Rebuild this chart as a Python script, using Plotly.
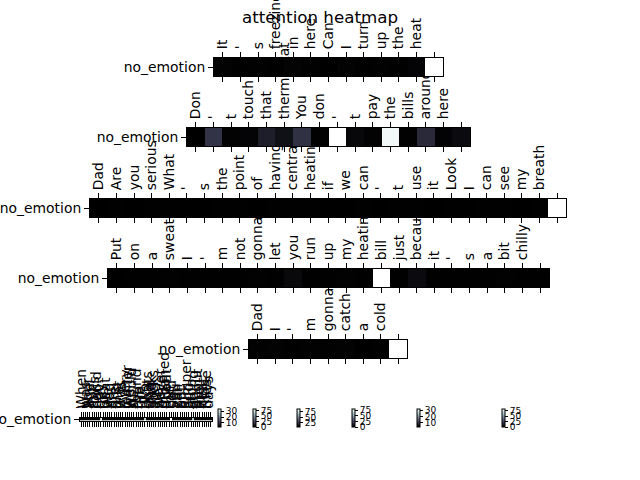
import plotly.graph_objects as go

# ---------------- data ----------------
tokens1 = ["It", "'", "s", "freezing", "in", "here", "Can", "I", "turn", "up", "the", "heat", ""]
values1 = [3.1, 2.8, 3.0, 2.9, 3.2, 3.0, 2.7, 3.1, 2.9, 3.0, 2.8, 3.3, 34.0]

tokens2 = ["Don", "'", "t", "touch", "that", "thermostat", "You", "don", "'", "t",
           "pay", "the", "bills", "around", "here", ""]
values2 = [0.0, 19.0, 1.0, 1.5, 11.0, 6.0, 18.0, 0.8, 82.0, 3.0, 1.0, 79.0, 0.6, 15.0, 1.2, 4.0]

tokens3 = ["Dad", "Are", "you", "serious", "What", "'", "s", "the", "point", "of", "having",
           "central", "heating", "if", "we", "can", "'", "t", "use", "it", "Look", "I",
           "can", "see", "my", "breath", ""]
values3 = [6.5, 6.8, 6.6, 6.9, 6.7, 6.5, 6.6, 6.8, 6.7, 6.6, 6.9, 6.7, 6.8, 6.6, 6.5,
           6.7, 6.6, 6.8, 6.7, 6.6, 6.9, 6.5, 6.7, 6.8, 6.6, 6.7, 88.0]

tokens4 = ["Put", "on", "a", "sweater", "I", "'", "m", "not", "gonna", "let", "you", "run",
           "up", "my", "heating", "bill", "just", "because", "it", "'", "s", "a", "bit",
           "chilly", ""]
values4 = [0.0, 0.5, 0.4, 0.6, 0.5, 0.3, 0.5, 0.4, 0.6, 0.5, 3.2, 0.4, 0.5, 0.6, 0.4,
           80.0, 0.5, 4.0, 0.4, 0.3, 0.5, 0.4, 0.6, 0.5, 0.4]

tokens5 = ["Dad", "I", "'", "m", "gonna", "catch", "a", "cold", ""]
values5 = [3.0, 3.2, 2.9, 3.1, 3.0, 3.2, 2.8, 3.1, 32.0]

tokens6 = ["When", "I", "was", "your", "age", "my", "folks", "could", "not", "pay",
           "for", "heat", "We", "had", "a", "fire", "and", "that", "was", "it",
           "Every", "winter", "we", "would", "sit", "round", "the", "fire", "in", "two",
           "coats", "and", "thick", "socks", "and", "we", "never", "once", "moaned", "about",
           "the", "cold", "So", "you", "can", "put", "on", "a", "jumper", "and",
           "stop", "going", "on", "about", "the", "heat", "Kids", "these", "days", ""]
values6 = [0.0, 0.6, 0.8, 0.5, 0.7, 0.6, 0.9, 0.5, 0.7, 70.0, 0.6, 0.8, 0.5, 0.7, 0.6,
           0.9, 0.5, 0.6, 0.7, 0.8, 0.6, 0.5, 0.7, 0.6, 0.8, 0.5, 0.7, 0.6, 0.9, 65.0,
           0.6, 0.7, 0.5, 0.8, 0.6, 0.7, 0.5, 0.6, 0.8, 0.7, 0.6, 82.0, 0.5, 0.7, 0.6,
           0.8, 0.5, 0.6, 0.7, 0.6, 0.5, 60.0, 0.7, 0.6, 0.8, 0.5, 0.6, 0.7, 0.5, 1.0]

row_label = "no_emotion"
cbar_ticks = [[10, 20, 30], [0, 25, 50, 75], [25, 50, 75], [0, 25, 50, 75], [10, 20, 30], [0, 25, 50, 75]]

rows = [(tokens1, values1), (tokens2, values2), (tokens3, values3),
        (tokens4, values4), (tokens5, values5), (tokens6, values6)]

# ---------------- layout geometry (pixels) ----------------
W, H = 640, 480
boxes = [  # x0, x1, y0, y1
    (214, 443, 58, 76),
    (187, 470, 128, 146),
    (90, 566, 199, 217),
    (108, 549, 269, 287),
    (249, 407, 340, 358),
    (80, 212, 417.5, 420.5),
]
cb_x = [218, 253, 297, 352, 417, 502]
cb_y = 418
cb_len = 18

bone = [
    [0.0, "rgb(0,0,0)"],
    [0.365079, "rgb(81,81,113)"],
    [0.746032, "rgb(166,198,198)"],
    [1.0, "rgb(255,255,255)"],
]

FONT = "DejaVu Sans"
fig = go.Figure()
layout = dict(
    width=W, height=H,
    margin=dict(l=0, r=0, t=0, b=0, pad=0, autoexpand=False),
    paper_bgcolor="white", plot_bgcolor="white",
    font=dict(family=FONT, color="black", size=13.9),
    showlegend=False,
    title=dict(text="attention heatmap", x=0.5, xanchor="center", xref="paper",
               y=1 - 17 / H, yanchor="middle", yref="paper",
               font=dict(family=FONT, size=16.7, color="black")),
)

n_rows = len(rows)
for i, ((toks, vals), (x0, x1, y0, y1)) in enumerate(zip(rows, boxes)):
    k = n_rows - i  # row 1 gets the highest axis id so it draws on top
    xa = "x" if k == 1 else f"x{k}"
    ya = "y" if k == 1 else f"y{k}"
    xkey = "xaxis" if k == 1 else f"xaxis{k}"
    ykey = "yaxis" if k == 1 else f"yaxis{k}"
    n = len(toks)
    fig.add_trace(go.Heatmap(
        z=[vals], x=list(range(n)), y=[0],
        xaxis=xa, yaxis=ya,
        colorscale=bone, zmin=min(vals), zmax=max(vals),
        hoverinfo="skip",
        colorbar=dict(
            x=cb_x[i] / W, xanchor="left", xref="paper", xpad=0,
            y=1 - cb_y / H, yanchor="middle", yref="paper", ypad=0,
            len=cb_len, lenmode="pixels", thickness=3, thicknessmode="pixels",
            outlinewidth=1, outlinecolor="black",
            tickmode="array", tickvals=cbar_ticks[i],
            ticks="outside", ticklen=3, tickwidth=1, tickcolor="black",
            tickfont=dict(family=FONT, size=9, color="black"),
        ),
    ))
    layout[xkey] = dict(
        domain=[x0 / W, x1 / W], anchor=ya, range=[-0.5, n - 0.5],
        side="top", tickmode="array", tickvals=list(range(n)), ticktext=toks,
        tickangle=-90, ticks="outside", ticklen=5, tickwidth=1, tickcolor="black",
        showline=True, linecolor="black", linewidth=1, mirror="ticks",
        showgrid=False, zeroline=False, fixedrange=True, automargin=False,
        tickfont=dict(family=FONT, size=13.9, color="black"),
        ticklabeloverflow="allow",
    )
    layout[ykey] = dict(
        domain=[1 - y1 / H, 1 - y0 / H], anchor=xa, range=[-0.5, 0.5],
        tickmode="array", tickvals=[0], ticktext=[row_label],
        ticks="outside", ticklen=5, tickwidth=1, tickcolor="black",
        showline=True, linecolor="black", linewidth=1, mirror=True,
        showgrid=False, zeroline=False, fixedrange=True, automargin=False,
        tickfont=dict(family=FONT, size=13.9, color="black"),
        ticklabeloverflow="allow",
    )

fig.update_layout(**layout)
fig.write_html("out.html")
